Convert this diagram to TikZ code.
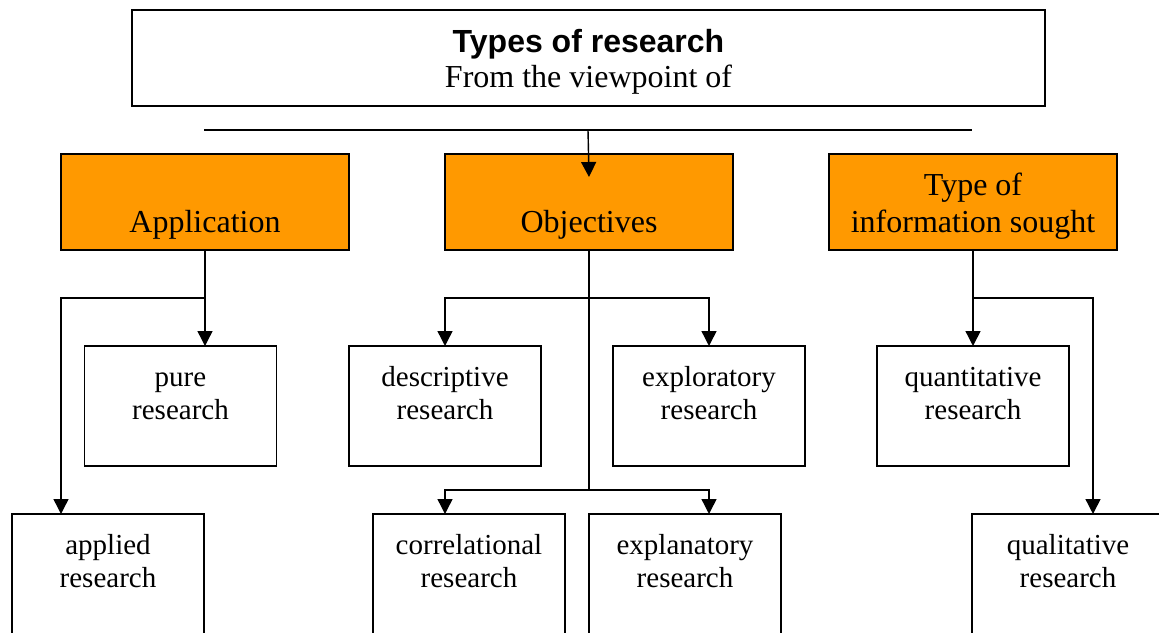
\documentclass[tikz,border=0pt]{standalone}
\usepackage{fontspec}
\setmainfont{Liberation Serif}
\setsansfont{Liberation Sans}
\usepackage{tikz}
\usetikzlibrary{positioning}
\usetikzlibrary{arrows.meta}
\usepackage{xcolor}
\definecolor{boxorange}{HTML}{FF9900}

\begin{document}
\begin{tikzpicture}[x=0.5pt, y=-0.5pt,
  titlebox/.style={draw, line width=1pt, inner sep=0pt, outer sep=0pt, align=center,
    minimum width=456.5pt, text height=38.5pt, text depth=9.5pt,
    font=\fontsize{16}{17.5}\selectfont},
  catbox/.style={draw, fill=boxorange, line width=0.9pt, inner sep=0pt, outer sep=0pt, align=center,
    minimum width=144pt, text height=39pt, text depth=9pt,
    font=\fontsize{16}{18.5}\selectfont},
  leafbox/.style={draw, line width=0.9pt, inner sep=0pt, outer sep=0pt, align=center,
    minimum width=96pt, text height=36.5pt, text depth=23.5pt,
    font=\fontsize{14.5}{16.5}\selectfont},
  conn/.style={line width=0.7pt},
  arr/.style={line width=0.7pt, -{Triangle[length=7.5pt,width=7.5pt]}}]

\useasboundingbox (0,0) rectangle (1159,632);

% boxes
\node[titlebox, anchor=north] (title) at (588.5,10) {{\sffamily\bfseries Types of research}\\From the viewpoint of};

\node[catbox, anchor=north] (app) at (205,154) {Application};
\node[catbox, anchor=north] (obj) at (589,154) {Objectives};
\node[catbox, anchor=north] (info) at (973,154) {Type of\\information sought};

\node[leafbox, anchor=north] (pure) at (180.5,346) {pure\\research};
\node[leafbox, anchor=north] (desc) at (445,346) {descriptive\\research};
\node[leafbox, anchor=north] (explo) at (709,346) {exploratory\\research};
\node[leafbox, anchor=north] (quant) at (973,346) {quantitative\\research};

\node[leafbox, anchor=north] (applied) at (108,514) {applied\\research};
\node[leafbox, anchor=north] (corr) at (469,514) {correlational\\research};
\node[leafbox, anchor=north] (expln) at (685,514) {explanatory\\research};
\node[leafbox, anchor=north] (qual) at (1068,514) {qualitative\\research};

% top bar
\coordinate (barL) at (204,130);
\coordinate (barR) at (972,130);
\draw[conn] (barL) -- coordinate[midway] (barM) (barR);
\draw[arr] (barM) -- ([yshift=-11.5pt]obj.north);

% application
\coordinate (appfork) at (205,298);
\draw[conn] (app.south) -- (appfork);
\draw[arr] (appfork) -- (appfork |- pure.north);
\draw[arr] (appfork) -| (app.west |- applied.north);

% objectives
\coordinate (objfork) at (589,298);
\coordinate (objlow) at (589,490);
\draw[conn] (obj.south) -- (objlow);
\draw[arr] (objfork) -| (desc.north);
\draw[arr] (objfork) -| (explo.north);
\draw[arr] (objlow) -| (desc.south |- corr.north);
\draw[arr] (objlow) -| (explo.south |- expln.north);

% type of information
\coordinate (infofork) at (973,298);
\coordinate (infoR) at (1093,298);
\draw[arr] (info.south) -- (quant.north);
\draw[arr] (infofork) -- (infoR) -- (infoR |- qual.north);

\end{tikzpicture}
\end{document}
